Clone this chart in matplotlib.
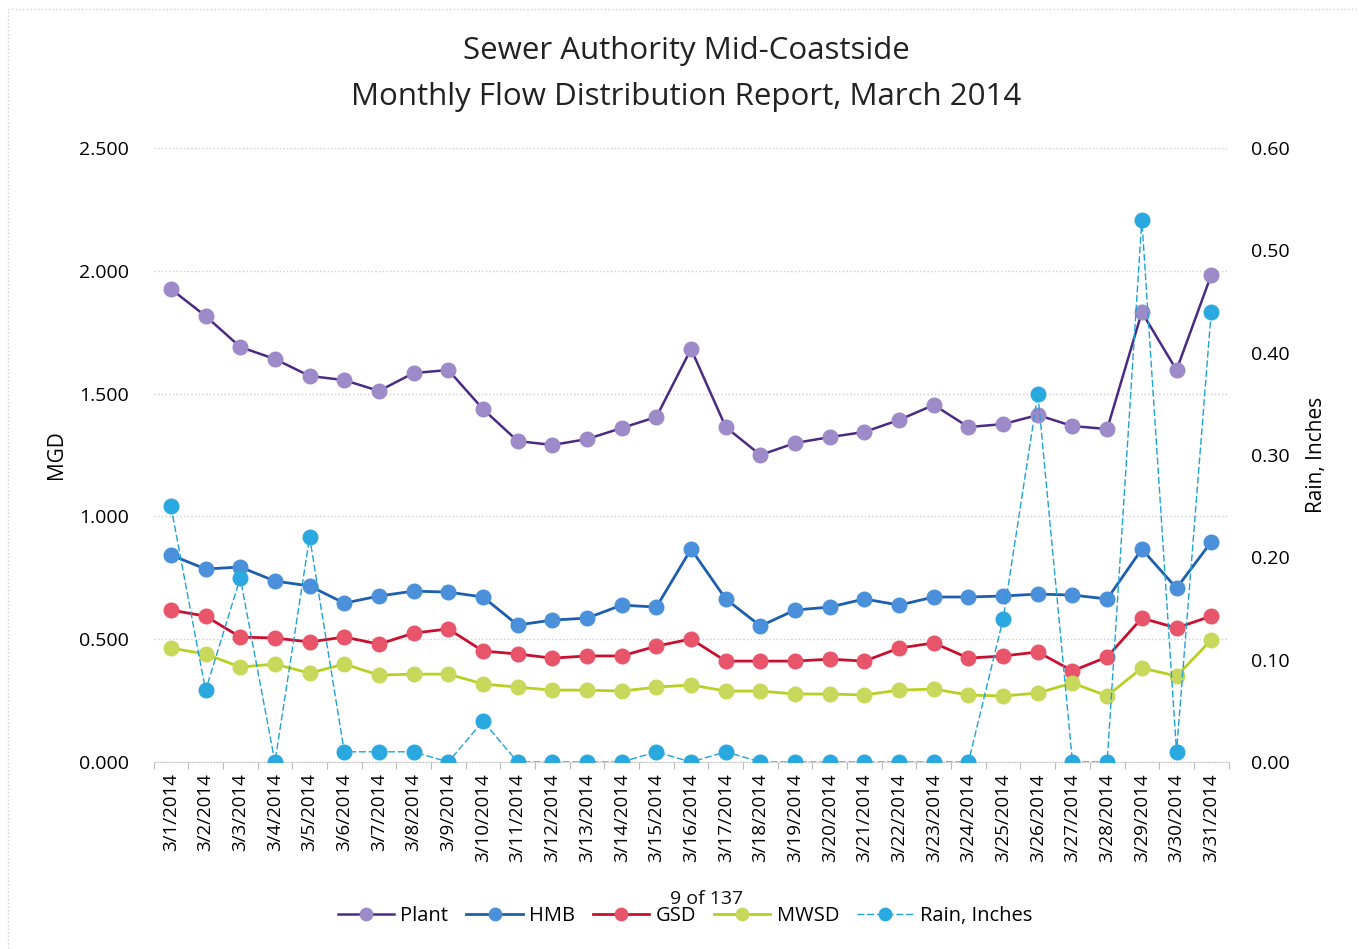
import matplotlib
matplotlib.use("Agg")
import matplotlib.pyplot as plt
from matplotlib.patches import Rectangle

plt.rcParams['font.family'] = ['Open Sans', 'DejaVu Sans']

dates = [f"3/{d}/2014" for d in range(1, 32)]

plant = [1.926, 1.816, 1.690, 1.641, 1.572, 1.555, 1.511, 1.584, 1.596, 1.437,
         1.307, 1.291, 1.315, 1.360, 1.405, 1.682, 1.364, 1.250, 1.299, 1.323,
         1.344, 1.393, 1.454, 1.364, 1.376, 1.413, 1.368, 1.356, 1.832, 1.596, 1.983]
hmb = [0.843, 0.786, 0.794, 0.737, 0.717, 0.647, 0.676, 0.696, 0.692, 0.672,
       0.558, 0.578, 0.586, 0.639, 0.631, 0.867, 0.664, 0.554, 0.619, 0.631,
       0.664, 0.639, 0.672, 0.672, 0.676, 0.684, 0.680, 0.664, 0.867, 0.708, 0.896]
gsd = [0.619, 0.594, 0.509, 0.505, 0.489, 0.509, 0.480, 0.525, 0.542, 0.452,
       0.440, 0.423, 0.432, 0.432, 0.472, 0.501, 0.411, 0.411, 0.411, 0.419,
       0.411, 0.464, 0.485, 0.423, 0.432, 0.448, 0.371, 0.428, 0.586, 0.546, 0.594]
mwsd = [0.464, 0.440, 0.387, 0.399, 0.362, 0.399, 0.354, 0.358, 0.358, 0.318,
        0.305, 0.293, 0.293, 0.289, 0.305, 0.314, 0.289, 0.289, 0.277, 0.277,
        0.273, 0.293, 0.297, 0.273, 0.269, 0.281, 0.322, 0.269, 0.383, 0.350, 0.497]
rain = [0.25, 0.07, 0.18, 0.00, 0.22, 0.01, 0.01, 0.01, 0.00, 0.04,
        0.00, 0.00, 0.00, 0.00, 0.01, 0.00, 0.01, 0.00, 0.00, 0.00,
        0.00, 0.00, 0.00, 0.00, 0.14, 0.36, 0.00, 0.00, 0.53, 0.01, 0.44]

left_ticks = [0.0, 0.5, 1.0, 1.5, 2.0, 2.5]
right_ticks = [0.0, 0.1, 0.2, 0.3, 0.4, 0.5, 0.6]

fig = plt.figure(figsize=(13.59, 9.49), dpi=100)
ax = fig.add_axes([0.113, 0.197, 0.791, 0.647])
ax2 = ax.twinx()

x = list(range(len(dates)))

styles = [
    ("Plant", plant, "#4b2a84", "#9d8ac9", 1.8),
    ("HMB", hmb, "#1c5fae", "#4a90db", 2.0),
    ("GSD", gsd, "#c8102e", "#e8556a", 2.0),
    ("MWSD", mwsd, "#b8d022", "#c8d85a", 2.0),
]
handles = []
for name, vals, lc, mc, lw in styles:
    h, = ax.plot(x, vals, color=lc, lw=lw, ls='-', marker='o', markersize=10.5,
                 markerfacecolor=mc, markeredgecolor=mc, label=name, zorder=3)
    handles.append(h)

hr, = ax2.plot(x, rain, color="#1fa3d6", lw=1.0, ls=(0, (5, 2)), marker='o',
               markersize=10.5, markerfacecolor="#2aa8e0", markeredgecolor="#2aa8e0",
               label="Rain, Inches", zorder=4)
handles.append(hr)

ax.set_xlim(-0.5, len(dates) - 0.5)
ax.set_ylim(0, 2.5)
ax2.set_ylim(0, 0.6)
ax.set_yticks(left_ticks)
ax.set_yticklabels([f"{v:.3f}" for v in left_ticks])
ax2.set_yticks(right_ticks)
ax2.set_yticklabels([f"{v:.2f}" for v in right_ticks])
ax.set_xticks(x)
ax.set_xticklabels(dates, rotation=90, fontsize=13.5)
ax.set_xticks([i + 0.5 for i in range(-1, len(dates))], minor=True)
ax.tick_params(axis='x', which='major', length=0, pad=8)
ax.tick_params(axis='x', which='minor', length=5, color="#bbbbbb", width=0.8)
ax.tick_params(axis='y', length=0, labelsize=14, pad=18)
ax2.tick_params(axis='y', length=0, labelsize=14, pad=16)

for a in (ax, ax2):
    for s in a.spines.values():
        s.set_visible(False)
ax.spines['bottom'].set_visible(True)
ax.spines['bottom'].set_color("#c8c8c8")
ax.spines['bottom'].set_linestyle(":")
ax.yaxis.grid(True, color="#cccccc", ls=":", lw=1.0)
ax.set_axisbelow(True)

ax.set_ylabel("MGD", fontsize=15, labelpad=8)
ax2.set_ylabel("Rain, Inches", fontsize=15, labelpad=12)

fig.text(0.505, 0.946, "Sewer Authority Mid-Coastside", ha='center', va='center', fontsize=22.5, color="#222222")
fig.text(0.505, 0.898, "Monthly Flow Distribution Report, March 2014", ha='center', va='center', fontsize=22.5, color="#222222")

fig.legend(handles=handles, labels=[h.get_label() for h in handles], loc='center',
           bbox_to_anchor=(0.504, 0.035), ncol=5, frameon=False, fontsize=14.5,
           handlelength=2.8, handletextpad=0.3, columnspacing=0.9, markerscale=0.85)
fig.text(0.52, 0.053, "9 of 137", ha='center', va='center', fontsize=14, color="#111111")

fig.patches.append(Rectangle((0.006, -0.01), 1.2, 1.0, transform=fig.transFigure,
                             fill=False, ec="#d0d0d0", ls=":", lw=1.0))

fig.savefig("out.png", dpi=100)
